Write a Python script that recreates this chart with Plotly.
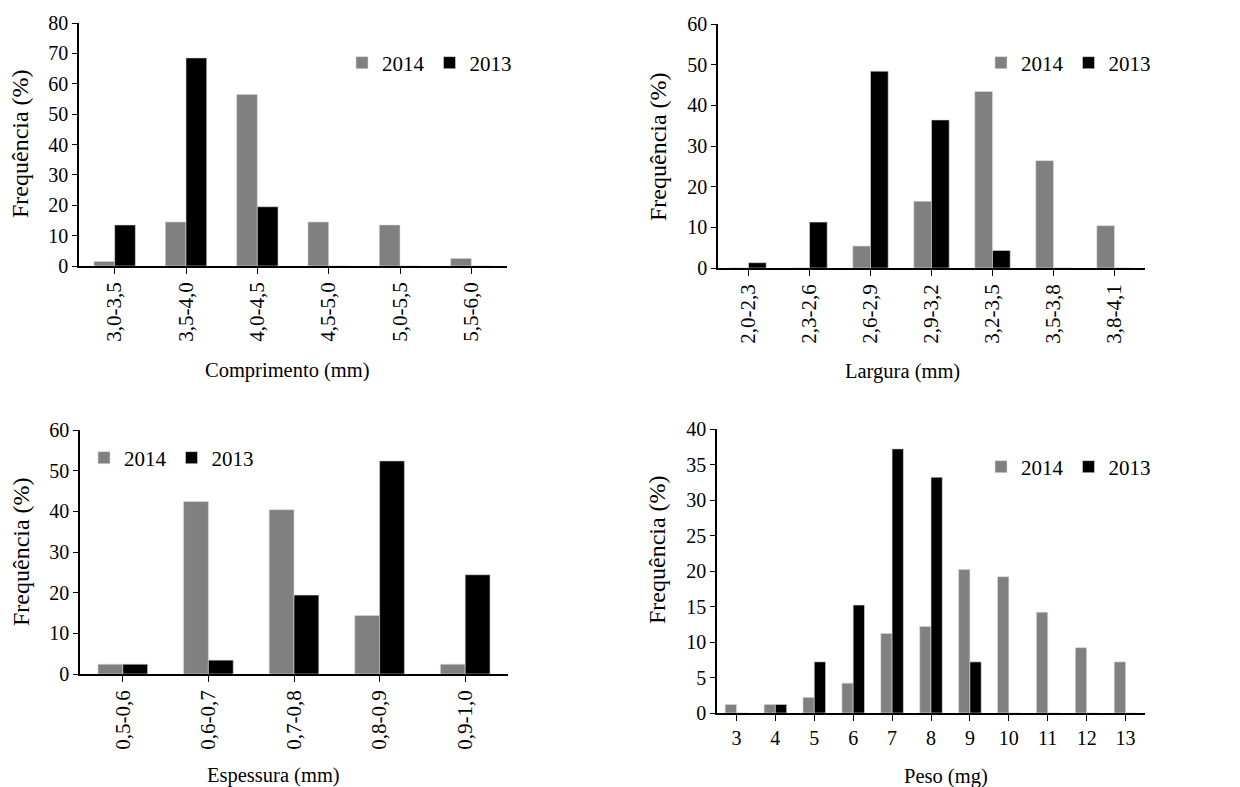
import plotly.graph_objects as go

# ---- data ----
comp_cats = ["3,0-3,5", "3,5-4,0", "4,0-4,5", "4,5-5,0", "5,0-5,5", "5,5-6,0"]
comp_2014 = [1.5, 14.5, 56.5, 14.5, 13.5, 2.5]
comp_2013 = [13.5, 68.5, 19.5, 0, 0, 0]

larg_cats = ["2,0-2,3", "2,3-2,6", "2,6-2,9", "2,9-3,2", "3,2-3,5", "3,5-3,8", "3,8-4,1"]
larg_2014 = [0, 0, 5.4, 16.4, 43.4, 26.4, 10.4]
larg_2013 = [1.3, 11.3, 48.4, 36.4, 4.3, 0, 0]

esp_cats = ["0,5-0,6", "0,6-0,7", "0,7-0,8", "0,8-0,9", "0,9-1,0"]
esp_2014 = [2.4, 42.4, 40.4, 14.4, 2.4]
esp_2013 = [2.4, 3.4, 19.4, 52.4, 24.4]

peso_cats = ["3", "4", "5", "6", "7", "8", "9", "10", "11", "12", "13"]
peso_2014 = [1.2, 1.2, 2.2, 4.2, 11.2, 12.2, 20.2, 19.2, 14.2, 9.2, 7.2]
peso_2013 = [0, 1.2, 7.2, 15.2, 37.2, 33.2, 7.2, 0, 0, 0, 0]

series_names = ["2014", "2013"]
y_title = "Frequência (%)"
x_titles = ["Comprimento (mm)", "Largura (mm)", "Espessura (mm)", "Peso (mg)"]
y_ranges = [[0, 80], [0, 60], [0, 60], [0, 40]]
y_dtick = [10, 10, 10, 5]

W, H = 1240, 787
OFF = 8  # page body margin offset
FONT = "Liberation Serif, Times New Roman, serif"
GRAY = "#808080"
BLACK = "#000000"

def px_x(v):
    return (v - OFF) / W

def px_y(v):
    return 1 - (v - OFF) / H

panels = [
    dict(cats=comp_cats, a=comp_2014, b=comp_2013, xd=(79, 507), yd=(23, 266),
         rot=-90, leg=(517, 63), ytit=(20, 144), xtit=(287, 370)),
    dict(cats=larg_cats, a=larg_2014, b=larg_2013, xd=(718, 1145), yd=(24, 268),
         rot=-90, leg=(1156, 63), ytit=(658, 147), xtit=(902, 371)),
    dict(cats=esp_cats, a=esp_2014, b=esp_2013, xd=(80, 508), yd=(430, 674),
         rot=-90, leg=(259, 458), ytit=(21, 552), xtit=(273, 775)),
    dict(cats=peso_cats, a=peso_2014, b=peso_2013, xd=(717, 1145), yd=(429, 713),
         rot=0, leg=(1156, 467), ytit=(657, 550), xtit=(946, 776)),
]

fig = go.Figure()
layout = dict(
    template="none",
    width=W, height=H,
    margin=dict(l=0, r=0, t=0, b=0),
    paper_bgcolor="white", plot_bgcolor="white",
    barmode="group",
    font=dict(family=FONT, size=19, color="black"),
    showlegend=True,
    annotations=[],
)

for i, p in enumerate(panels):
    n = "" if i == 0 else str(i + 1)
    xa, ya = "x" + n, "y" + n
    legname = "legend" if i == 0 else "legend" + str(i + 1)
    for name, vals, col in ((series_names[0], p["a"], GRAY), (series_names[1], p["b"], BLACK)):
        fig.add_trace(go.Bar(
            x=p["cats"], y=vals, name=name, xaxis=xa, yaxis=ya,
            marker=dict(color=col, line=dict(color="#d9d9d9", width=0.6)),
            legend=legname, offsetgroup=name,
        ))
    layout["xaxis" + n] = dict(
        domain=[px_x(p["xd"][0]), px_x(p["xd"][1])], anchor=ya, automargin=False,
        type="category", showline=True, linecolor="black", linewidth=1.5,
        ticks="outside", ticklen=6, tickcolor="black", tickwidth=1,
        tickangle=p["rot"], tickfont=dict(family=FONT, size=21 if p["rot"] else 20),
        showgrid=False, zeroline=False, range=[-0.5, len(p["cats"]) - 0.5],
    )
    layout["yaxis" + n] = dict(
        domain=[px_y(p["yd"][1]), px_y(p["yd"][0])], anchor=xa, automargin=False,
        range=y_ranges[i], dtick=y_dtick[i], showline=True, linecolor="black", linewidth=1.5,
        ticks="outside", ticklen=5, tickcolor="black", tickwidth=1,
        tickfont=dict(family=FONT, size=20), showgrid=False, zeroline=False,
    )
    layout[legname] = dict(
        orientation="h", x=px_x(p["leg"][0]), xanchor="right",
        y=px_y(p["leg"][1]), yanchor="middle", bgcolor="rgba(0,0,0,0)",
        font=dict(family=FONT, size=21), itemwidth=30, traceorder="normal",
        tracegroupgap=0,
    )
    layout["annotations"].append(dict(
        text=y_title, x=px_x(p["ytit"][0]), y=px_y(p["ytit"][1]), xref="paper", yref="paper",
        showarrow=False, textangle=-90, font=dict(family=FONT, size=24),
        xanchor="center", yanchor="middle", borderpad=0,
    ))
    layout["annotations"].append(dict(
        text=x_titles[i], x=px_x(p["xtit"][0]), y=px_y(p["xtit"][1]), xref="paper", yref="paper",
        showarrow=False, font=dict(family=FONT, size=20.5),
        xanchor="center", yanchor="middle", borderpad=0,
    ))

fig.update_layout(**layout)
fig.update_layout(bargap=0.42, bargroupgap=0)

fig.write_html("out.html")
